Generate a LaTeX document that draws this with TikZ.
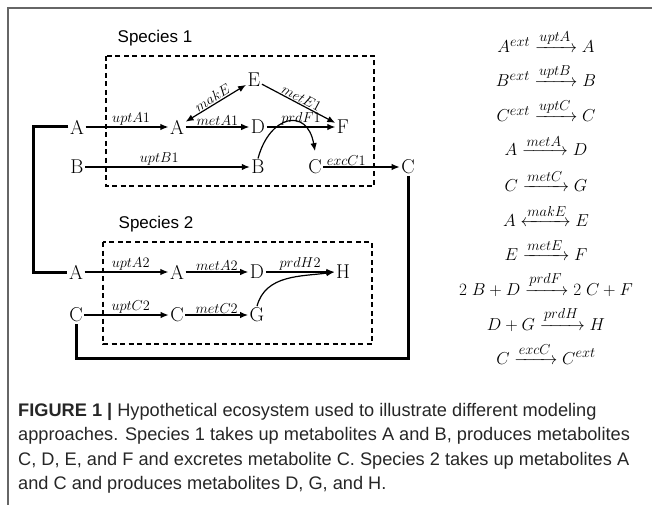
\documentclass[tikz,border=0pt]{standalone}
\usepackage{mathtools}
\usepackage{fontspec}
\usetikzlibrary{arrows.meta}
\newfontfamily\capfont{Liberation Sans}
\DeclareMathSizes{18}{18}{13.5}{10}

\begin{document}
\begin{tikzpicture}[x=1pt,y=1pt,>={Latex[length=8pt,width=6.5pt]},
  met/.style={inner sep=1.5pt,font=\fontsize{20}{23}\selectfont},
  lbl/.style={inner sep=1pt,font=\fontsize{15}{17}\selectfont},
  rxn/.style={line width=1.2pt,->},
  link/.style={line width=3pt},
  spbox/.style={line width=1.2pt,dash pattern=on 5pt off 3.5pt},
  spec/.style={font=\capfont\fontsize{17}{20}\selectfont},
  eqn/.style={anchor=base,inner sep=0pt,font=\fontsize{18}{21}\selectfont},
  capt/.style={anchor=base west,inner sep=0pt,text=black!85,font=\capfont\fontsize{18.2}{22}\selectfont}]
\useasboundingbox (0,0) rectangle (652,-505);
\draw[black!60,line width=1.5pt] (652,-8) -- (8,-8) -- (8,-505);
% species 1
\node[spec] (sp1) at (155,-38) {Species 1};
\draw[spbox] (106,-56) rectangle (374,-186);
\node[met] (A0) at (77,-127) {A};
\node[met] (A1) at (177,-127) {A};
\node[met] (D1) at (258,-127) {D};
\node[met] (E1) at (254,-80) {E};
\node[met] (F1) at (343,-127) {F};
\node[met] (B0) at (77,-167) {B};
\node[met] (B1) at (258,-167) {B};
\node[met] (C1) at (315,-167) {C};
\node[met] (C1o) at (408,-167) {C};
\draw[rxn] (A0) -- node[lbl,above,pos=0.55] {$uptA1$} (A1);
\draw[rxn] (A1) -- node[lbl,above] {$metA1$} (D1);
\draw[rxn,<->] (A1) -- node[lbl,above,sloped] {$makE$} (E1);
\draw[rxn] (E1) -- node[lbl,above,sloped] {$metE1$} (F1);
\draw[rxn] (D1) -- node[lbl,above] {$prdF1$} (F1);
\draw[rxn] (B0) -- node[lbl,above,pos=0.45] {$uptB1$} (B1);
\draw[rxn] (B1.north) to[out=75,in=100,looseness=2] ([yshift=7pt]C1.north);
\draw[rxn] (C1) -- node[lbl,above,pos=0.3] {$excC1$} (C1o);
% species 2
\node[spec] (sp2) at (156,-224) {Species 2};
\draw[spbox] (103,-242) rectangle (372,-344);
\node[met] (A2o) at (76,-272) {A};
\node[met] (A2) at (177,-272) {A};
\node[met] (D2) at (257,-272) {D};
\node[met] (H2) at (343,-272) {H};
\node[met] (C2o) at (76,-315) {C};
\node[met] (C2) at (177,-315) {C};
\node[met] (G2) at (257,-315) {G};
\draw[rxn] (A2o) -- node[lbl,above,pos=0.55] {$uptA2$} (A2);
\draw[rxn] (A2) -- node[lbl,above] {$metA2$} (D2);
\draw[rxn] (D2) -- node[lbl,above] {$prdH2$} (H2);
\draw[rxn] (C2o) -- node[lbl,above,pos=0.55] {$uptC2$} (C2);
\draw[rxn] (C2) -- node[lbl,above] {$metC2$} (G2);
\draw[rxn] (G2.north) to[out=75,in=188] (H2.west);
% exchange between species
\draw[link] (A0.west) -- ++(-35,0) |- (A2o.west);
\draw[link] (C1o.south) -- ++(0,-183) -| (C2o.south);
% reactions
\node[eqn] (r1) at (546,-53) {$A^{ext}\xrightarrow{uptA}A$};
\node[eqn] (r2) at (546,-87) {$B^{ext}\xrightarrow{uptB}B$};
\node[eqn] (r3) at (546,-122) {$C^{ext}\xrightarrow{uptC}C$};
\node[eqn] (r4) at (546,-156) {$A\xrightarrow{metA}D$};
\node[eqn] (r5) at (546,-191) {$C\xrightarrow{metC}G$};
\node[eqn] (r6) at (546,-226) {$A\xleftrightarrow{makE}E$};
\node[eqn] (r7) at (546,-260) {$E\xrightarrow{metE}F$};
\node[eqn] (r8) at (546,-295) {$2\;B+D\xrightarrow{prdF}2\;C+F$};
\node[eqn] (r9) at (546,-330) {$D+G\xrightarrow{prdH}H$};
\node[eqn] (r10) at (546,-364) {$C\xrightarrow{excC}C^{ext}$};
% caption
\node[capt] (cap1) at (18,-416) {\textbf{FIGURE 1 |} Hypothetical ecosystem used to illustrate different modeling};
\node[capt] (cap2) at (18,-440) {approaches. Species 1 takes up metabolites A and B, produces metabolites};
\node[capt] (cap3) at (18,-465) {C, D, E, and F and excretes metabolite C. Species 2 takes up metabolites A};
\node[capt] (cap4) at (18,-489) {and C and produces metabolites D, G, and H.};
\end{tikzpicture}
\end{document}
